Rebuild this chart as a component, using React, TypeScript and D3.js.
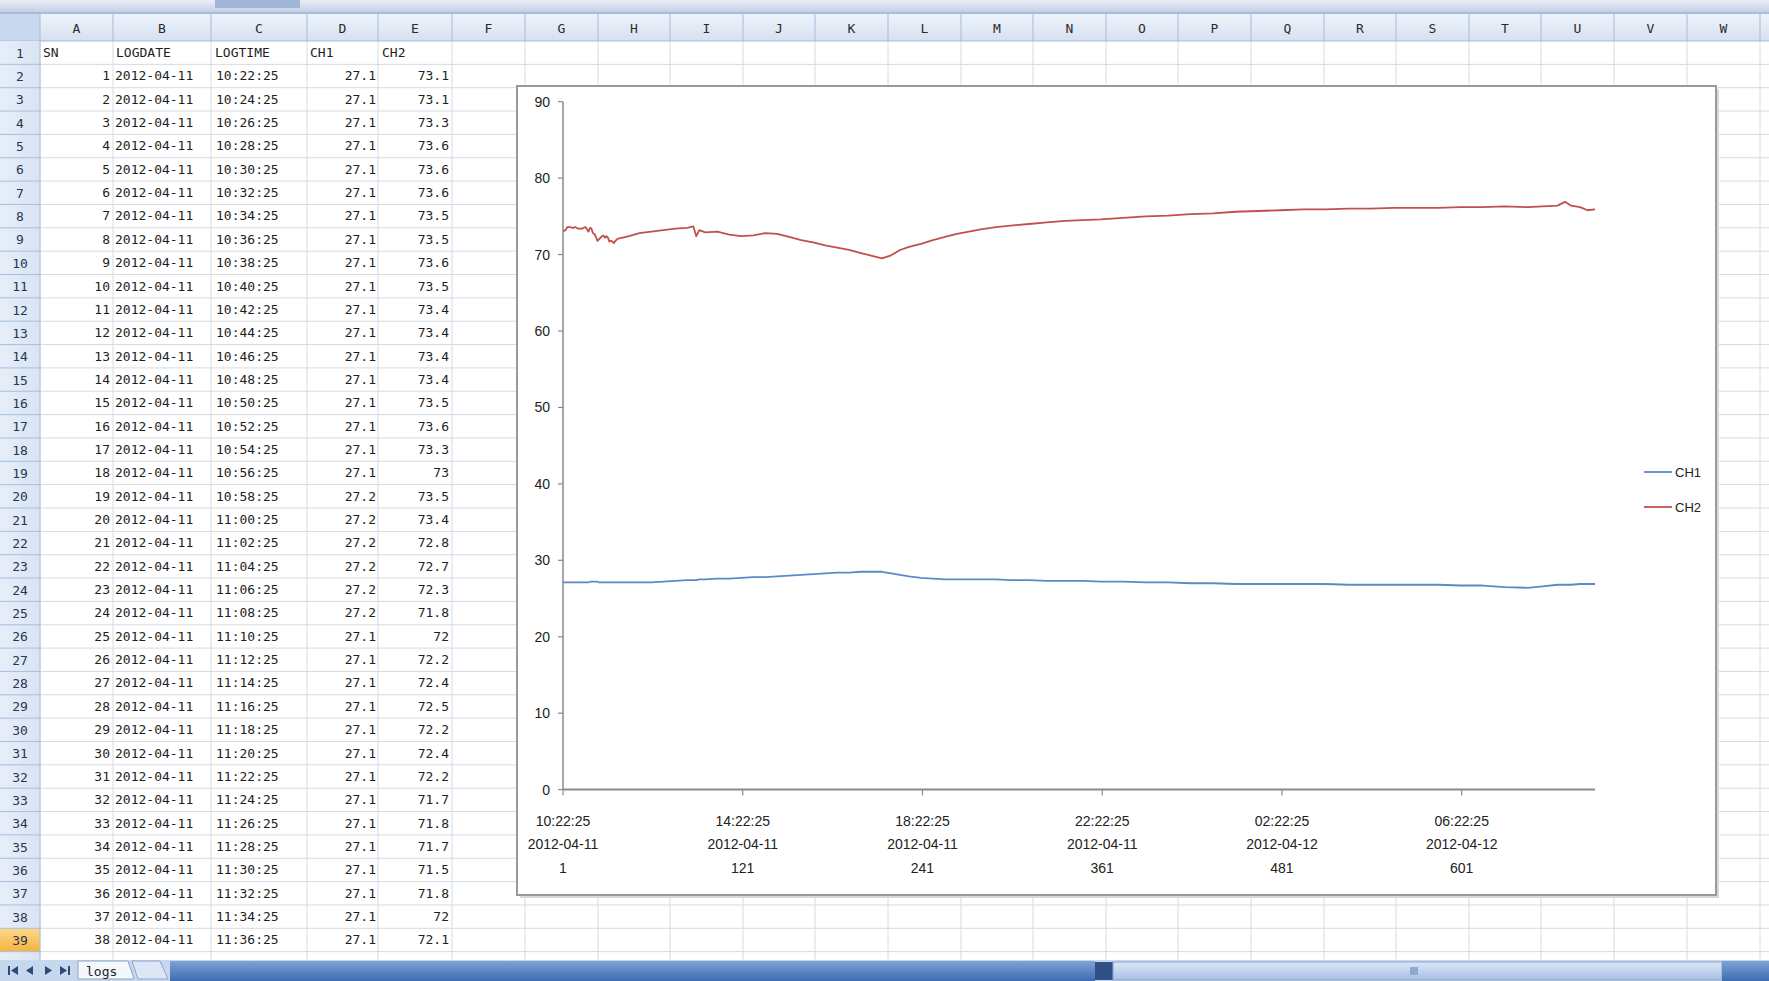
import React from 'react';
import * as d3 from 'd3';

const W = 1769;
const H = 981;

// ---------- spreadsheet content ----------
const columnLetters = ['A','B','C','D','E','F','G','H','I','J','K','L','M','N','O','P','Q','R','S','T','U','V','W'];
const headerRow = ['SN', 'LOGDATE', 'LOGTIME', 'CH1', 'CH2'];
const logDate = '2012-04-11';
const tableSN = [1,2,3,4,5,6,7,8,9,10,11,12,13,14,15,16,17,18,19,20,21,22,23,24,25,26,27,28,29,30,31,32,33,34,35,36,37,38];
const tableTime = ['10:22:25','10:24:25','10:26:25','10:28:25','10:30:25','10:32:25','10:34:25','10:36:25','10:38:25','10:40:25',
  '10:42:25','10:44:25','10:46:25','10:48:25','10:50:25','10:52:25','10:54:25','10:56:25','10:58:25','11:00:25',
  '11:02:25','11:04:25','11:06:25','11:08:25','11:10:25','11:12:25','11:14:25','11:16:25','11:18:25','11:20:25',
  '11:22:25','11:24:25','11:26:25','11:28:25','11:30:25','11:32:25','11:34:25','11:36:25'];
const tableCH1 = [27.1,27.1,27.1,27.1,27.1,27.1,27.1,27.1,27.1,27.1,27.1,27.1,27.1,27.1,27.1,27.1,27.1,27.1,
  27.2,27.2,27.2,27.2,27.2,27.2,27.1,27.1,27.1,27.1,27.1,27.1,27.1,27.1,27.1,27.1,27.1,27.1,27.1,27.1];
const tableCH2 = [73.1,73.1,73.3,73.6,73.6,73.6,73.5,73.5,73.6,73.5,73.4,73.4,73.4,73.4,73.5,73.6,73.3,73,
  73.5,73.4,72.8,72.7,72.3,71.8,72,72.2,72.4,72.5,72.2,72.4,72.2,71.7,71.8,71.7,71.5,71.8,72,72.1];

const laterSN = [45,52,60,68,76,84,88,90,92,96,104,112,120,128,136,144,152,160,168,176,
  184,192,200,208,214,220,226,232,240,248,256,264,272,280,290,300,312,324,336,348,
  360,375,390,405,420,435,450,465,480,495,510,525,540,555,570,585,600,615,630,645,
  655,665,670,674,680,685,690];
const laterCH1 = [27.1,27.1,27.1,27.2,27.3,27.4,27.4,27.4,27.5,27.5,
  27.6,27.6,27.7,27.8,27.8,27.9,28.0,28.1,28.2,28.3,
  28.4,28.4,28.5,28.5,28.5,28.3,28.1,27.9,27.7,27.6,
  27.5,27.5,27.5,27.5,27.5,27.4,27.4,27.3,27.3,27.3,
  27.2,27.2,27.1,27.1,27.0,27.0,26.9,26.9,26.9,26.9,
  26.9,26.8,26.8,26.8,26.8,26.8,26.7,26.7,26.5,26.4,
  26.6,26.8,26.8,26.8,26.9,26.9,26.9];
const laterCH2 = [72.4,72.8,73.0,73.2,73.4,73.5,73.7,72.4,73.2,72.9,
  73.0,72.6,72.4,72.5,72.8,72.7,72.3,71.9,71.6,71.2,
  70.9,70.6,70.2,69.8,69.5,69.9,70.6,71.0,71.4,71.9,
  72.3,72.7,73.0,73.3,73.6,73.8,74.0,74.2,74.4,74.5,
  74.6,74.8,75.0,75.1,75.3,75.4,75.6,75.7,75.8,75.9,
  75.9,76.0,76.0,76.1,76.1,76.1,76.2,76.2,76.3,76.2,
  76.3,76.4,76.9,76.4,76.2,75.8,75.9];

// ---------- chart axis labels ----------
const tickSN = [1, 121, 241, 361, 481, 601];
const tickTime = ['10:22:25', '14:22:25', '18:22:25', '22:22:25', '02:22:25', '06:22:25'];
const tickDate = ['2012-04-11', '2012-04-11', '2012-04-11', '2012-04-11', '2012-04-12', '2012-04-12'];
const yTicks = [0, 10, 20, 30, 40, 50, 60, 70, 80, 90];
const seriesNames = ['CH1', 'CH2'];
const seriesColors = ['#5b8ac4', '#c0504d'];

// ---------- layout ----------
const colEdges = [40,113,211,307,378,452,525,598,670,743,815,888,961,1033,1106,1178,1251,1324,1396,1469,1541,1614,1687,1760];
const headTop = 14, headBottom = 41;
const rowH = 23.35;
const rowTop = (r: number) => headBottom + (r - 1) * rowH;
const sheetBottom = 960;
const chartBox = { x: 517, y: 86, w: 1199, h: 809 };
const plot = { left: 563, right: 1595, top: 101.7, bottom: 789.6 };

const sheetFont = '"DejaVu Sans Mono", monospace';
const chartFont = '"Liberation Sans", Arial, sans-serif';

export default function App() {
  const sn = [...tableSN, ...laterSN];
  const ch1 = [...tableCH1, ...laterCH1];
  const ch2 = [...tableCH2, ...laterCH2];
  const x = d3.scaleLinear().domain([1, d3.max(sn) as number]).range([plot.left, plot.right]);
  const y = d3.scaleLinear().domain([0, 90]).range([plot.bottom, plot.top]);
  const line = d3.line<number>().x((_, i) => x(sn[i])).y((d) => y(d));
  const series = [ch1, ch2];

  const rowsVisible = d3.range(1, 41);

  return (
    <svg width={W} height={H} style={{ position: 'absolute', left: 0, top: 0, display: 'block', background: '#fff' }}>
      <defs>
        <linearGradient id="hdr" x1="0" y1="0" x2="0" y2="1">
          <stop offset="0" stopColor="#eef3fa" />
          <stop offset="1" stopColor="#d6e1f0" />
        </linearGradient>
        <linearGradient id="rowhdr" x1="0" y1="0" x2="1" y2="0">
          <stop offset="0" stopColor="#e6eef9" />
          <stop offset="1" stopColor="#d9e4f3" />
        </linearGradient>
        <linearGradient id="sel" x1="0" y1="0" x2="0" y2="1">
          <stop offset="0" stopColor="#fbd98b" />
          <stop offset="1" stopColor="#f4b33f" />
        </linearGradient>
        <linearGradient id="bar" x1="0" y1="0" x2="0" y2="1">
          <stop offset="0" stopColor="#7da2d6" />
          <stop offset="1" stopColor="#3f6cb0" />
        </linearGradient>
        <linearGradient id="thumb" x1="0" y1="0" x2="0" y2="1">
          <stop offset="0" stopColor="#dbe7f7" />
          <stop offset="1" stopColor="#a8c1e4" />
        </linearGradient>
        <linearGradient id="top" x1="0" y1="0" x2="0" y2="1">
          <stop offset="0" stopColor="#e9eef6" />
          <stop offset="1" stopColor="#bccbe2" />
        </linearGradient>
      </defs>

      {/* top strip */}
      <rect x={0} y={0} width={W} height={headTop} fill="url(#top)" />
      <rect x={215} y={0} width={85} height={8} fill="#9fb6d8" />
      <rect x={0} y={headTop - 2} width={W} height={2} fill="#a9bcd8" />

      {/* grid */}
      <g stroke="#d4dbe7" strokeWidth={1}>
        {rowsVisible.map((r) => (
          <line key={'h' + r} x1={40} x2={W} y1={rowTop(r) + rowH} y2={rowTop(r) + rowH} />
        ))}
        {colEdges.map((cx, i) => (
          <line key={'v' + i} x1={cx} x2={cx} y1={headBottom} y2={sheetBottom} />
        ))}
      </g>

      {/* column headers */}
      <rect x={0} y={headTop} width={W} height={headBottom - headTop} fill="url(#hdr)" />
      <rect x={0} y={headTop} width={40} height={headBottom - headTop} fill="#c9d8ee" />
      <g stroke="#a5bbd8" strokeWidth={1}>
        {colEdges.map((cx, i) => (
          <line key={'cv' + i} x1={cx} x2={cx} y1={headTop} y2={headBottom} />
        ))}
        <line x1={0} x2={W} y1={headBottom} y2={headBottom} />
      </g>
      {columnLetters.map((c, i) => (
        <text key={c} x={(colEdges[i] + colEdges[i + 1]) / 2} y={(headTop + headBottom) / 2 + 5}
          textAnchor="middle" fontFamily={sheetFont} fontSize={13} fill="#2a2a2a">{c}</text>
      ))}

      {/* row headers */}
      <rect x={0} y={headBottom} width={40} height={sheetBottom - headBottom} fill="url(#rowhdr)" />
      <rect x={0} y={rowTop(39)} width={40} height={rowH} fill="url(#sel)" />
      <g stroke="#a9bfdc" strokeWidth={1}>
        {rowsVisible.map((r) => (
          <line key={'rh' + r} x1={0} x2={40} y1={rowTop(r) + rowH} y2={rowTop(r) + rowH} />
        ))}
        <line x1={40} x2={40} y1={headBottom} y2={sheetBottom} />
      </g>
      {rowsVisible.slice(0, 39).map((r) => (
        <text key={'rn' + r} x={20} y={rowTop(r) + rowH / 2 + 5} textAnchor="middle"
          fontFamily={sheetFont} fontSize={13} fill="#2a3550">{r}</text>
      ))}

      {/* cell content */}
      <g fontFamily={sheetFont} fontSize={13} fill="#1e1e1e">
        <text x={43} y={rowTop(1) + 16}>{headerRow[0]}</text>
        <text x={116} y={rowTop(1) + 16}>{headerRow[1]}</text>
        <text x={215} y={rowTop(1) + 16}>{headerRow[2]}</text>
        <text x={310} y={rowTop(1) + 16}>{headerRow[3]}</text>
        <text x={382} y={rowTop(1) + 16}>{headerRow[4]}</text>
        {tableSN.map((s, i) => {
          const ty = rowTop(i + 2) + 16;
          return (
            <g key={'r' + s}>
              <text x={110} y={ty} textAnchor="end">{s}</text>
              <text x={115} y={ty}>{logDate}</text>
              <text x={216} y={ty}>{tableTime[i]}</text>
              <text x={376} y={ty} textAnchor="end">{String(tableCH1[i])}</text>
              <text x={449} y={ty} textAnchor="end">{String(tableCH2[i])}</text>
            </g>
          );
        })}
      </g>

      {/* chart object */}
      <rect x={chartBox.x + 3} y={chartBox.y + 3} width={chartBox.w} height={chartBox.h} fill="#d8d8d8" />
      <rect x={chartBox.x} y={chartBox.y} width={chartBox.w} height={chartBox.h} fill="#fff" stroke="#9a9a9a" strokeWidth={2} />

      {/* y axis */}
      <line x1={plot.left} x2={plot.left} y1={plot.top} y2={plot.bottom} stroke="#8a8a8a" strokeWidth={1.5} />
      {yTicks.map((t) => (
        <g key={'yt' + t}>
          <line x1={plot.left - 5} x2={plot.left} y1={y(t)} y2={y(t)} stroke="#8a8a8a" strokeWidth={1.2} />
          <text x={550} y={y(t) + 5} textAnchor="end" fontFamily={chartFont} fontSize={14} fill="#222">{t}</text>
        </g>
      ))}

      {/* x axis */}
      <line x1={plot.left} x2={plot.right} y1={plot.bottom} y2={plot.bottom} stroke="#8a8a8a" strokeWidth={2} />
      {tickSN.map((t, i) => (
        <g key={'xt' + t} fontFamily={chartFont} fontSize={14} fill="#222" textAnchor="middle">
          <line x1={x(t)} x2={x(t)} y1={plot.bottom} y2={plot.bottom + 6} stroke="#8a8a8a" strokeWidth={1.2} />
          <text x={x(t)} y={plot.bottom + 36}>{tickTime[i]}</text>
          <text x={x(t)} y={plot.bottom + 59}>{tickDate[i]}</text>
          <text x={x(t)} y={plot.bottom + 83}>{t}</text>
        </g>
      ))}

      {/* series */}
      {series.map((s, k) => (
        <path key={seriesNames[k]} d={line(s) || ''} fill="none" stroke={seriesColors[k]}
          strokeWidth={1.8} strokeLinejoin="round" />
      ))}

      {/* legend */}
      {seriesNames.map((n, k) => (
        <g key={'lg' + n}>
          <line x1={1644} x2={1672} y1={472 + k * 35} y2={472 + k * 35} stroke={seriesColors[k]} strokeWidth={1.8} />
          <text x={1675} y={477 + k * 35} fontFamily={chartFont} fontSize={13} fill="#222">{n}</text>
        </g>
      ))}

      {/* bottom bar */}
      <rect x={0} y={sheetBottom} width={W} height={H - sheetBottom} fill="#c7d7ee" />
      <g fill="#2c4a7a">
        <rect x={8} y={966} width={2} height={9} />
        <path d="M18,966 L11,970.5 L18,975 Z" />
        <path d="M33,966 L26,970.5 L33,975 Z" />
        <path d="M45,966 L52,970.5 L45,975 Z" />
        <path d="M60,966 L67,970.5 L60,975 Z" />
        <rect x={68} y={966} width={2} height={9} />
      </g>
      <path d="M78,961 L128,961 L134,979 L78,979 Z" fill="#f4f7fb" stroke="#8ea7c9" />
      <text x={86} y={976} fontFamily={sheetFont} fontSize={13} fill="#222">logs</text>
      <path d="M132,961 L160,961 L168,979 L138,979 Z" fill="#dce6f4" stroke="#8ea7c9" />
      <rect x={170} y={961} width={925} height={20} fill="url(#bar)" />
      <rect x={1095} y={962} width={18} height={18} fill="#2f4f86" />
      <rect x={1113} y={962} width={609} height={18} fill="url(#thumb)" stroke="#8aa6cf" />
      <rect x={1410} y={967} width={8} height={8} fill="#8fa9cf" />
      <rect x={1722} y={961} width={47} height={20} fill="url(#bar)" />
    </svg>
  );
}
